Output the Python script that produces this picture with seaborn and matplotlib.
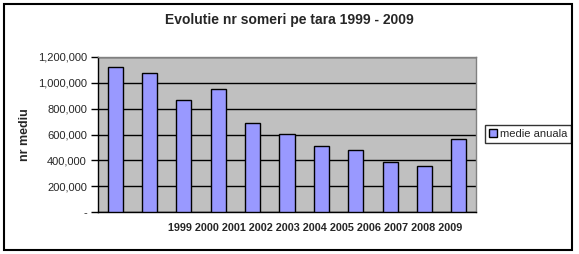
import numpy as np
import pandas as pd
import matplotlib
matplotlib.use("Agg")
import matplotlib.pyplot as plt
import seaborn as sns
from matplotlib.patches import Rectangle

# values
years = ["1999", "2000", "2001", "2002", "2003", "2004",
         "2005", "2006", "2007", "2008", "2009"]
medie_anuala = [1119000, 1073000, 865000, 956000, 691000, 605000,
                512000, 481000, 387000, 356000, 566000]
y_ticks = [0, 200000, 400000, 600000, 800000, 1000000, 1200000]

df = pd.DataFrame({"an": years, "medie anuala": medie_anuala})

sns.set_theme(style="white")
plt.rcParams["font.family"] = ["Liberation Sans", "DejaVu Sans"]

fig = plt.figure(figsize=(5.79, 2.54), dpi=100)
ax = fig.add_axes([98 / 579, 1 - 212 / 254, 378 / 579, 155 / 254])
ax.set_facecolor("#C0C0C0")

sns.barplot(data=df, x="an", y="medie anuala", order=years, color="#9999FF",
            edgecolor="black", linewidth=1, width=0.44, saturation=1,
            label="medie anuala", ax=ax, zorder=3)

# gridlines
ax.set_ylim(0, 1200000)
ax.set_yticks(y_ticks)
ax.set_yticklabels(["-" if v == 0 else f"{v:,}" for v in y_ticks], fontsize=8)
ax.yaxis.grid(True, color="black", linewidth=1, zorder=0)
ax.set_axisbelow(True)
ax.tick_params(axis="y", direction="out", length=5, width=1, color="black",
               left=True, pad=3)
ax.tick_params(axis="x", bottom=False, labelbottom=False)
ax.set_xlim(-0.5, len(years) - 0.5)
ax.set_xlabel("")
ax.set_ylabel("nr mediu", fontsize=9, fontweight="bold", labelpad=5)

for side in ["top", "right"]:
    ax.spines[side].set_color("#808080")
    ax.spines[side].set_linewidth(1)
for side in ["left", "bottom"]:
    ax.spines[side].set_color("black")
    ax.spines[side].set_linewidth(1)

# year labels, shifted as in the original
ax.text(0.574, -0.105, " ".join(years), transform=ax.transAxes,
        ha="center", va="center", fontsize=7.8, fontweight="bold")

fig.text(0.5, 1 - 20 / 254, "Evolutie nr someri pe tara 1999 - 2009",
         ha="center", va="center", fontsize=10, fontweight="bold")

leg = ax.legend(loc="center left", bbox_to_anchor=(485 / 579, 1 - 134 / 254),
                bbox_transform=fig.transFigure, fontsize=8, frameon=True,
                fancybox=False, edgecolor="black", handlelength=0.7,
                handleheight=0.7, handletextpad=0.3, borderpad=0.35,
                borderaxespad=0)
leg.get_frame().set_linewidth(1)

fig.patches.append(Rectangle((4 / 579, 4 / 254), 568 / 579, 246 / 254,
                             transform=fig.transFigure, fill=False,
                             edgecolor="black", linewidth=1.5))

fig.savefig("out.png", dpi=100, facecolor="white")
